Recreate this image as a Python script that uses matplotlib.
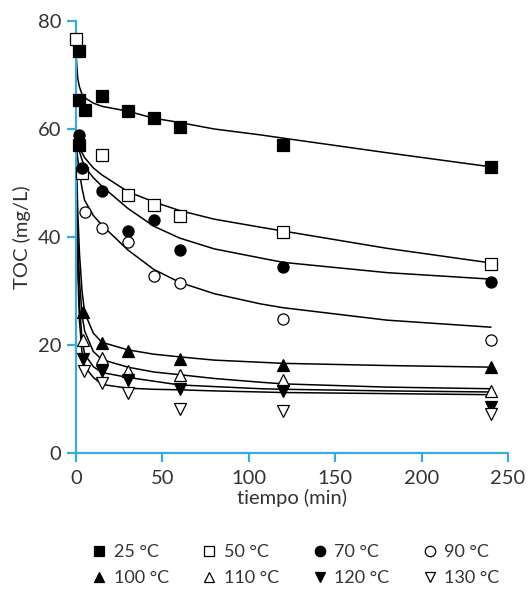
import matplotlib
matplotlib.use("Agg")
import matplotlib.pyplot as plt
from matplotlib.lines import Line2D

plt.rcParams['font.family'] = ['Lato', 'DejaVu Sans']

# ---- measured data (tiempo in min, TOC in mg/L) ----
t_25 = [1.5, 1.5, 1.5, 5, 15, 30, 45, 60, 120, 240]
toc_25 = [74.4, 65.4, 57.0, 63.6, 66.1, 63.4, 62.0, 60.4, 57.0, 52.9]
t_50 = [0, 3.5, 15, 30, 45, 60, 120, 240]
toc_50 = [76.7, 51.9, 55.1, 47.8, 45.9, 43.8, 40.9, 35.0]
t_70 = [1.7, 3.7, 15, 30, 45, 60, 120, 240]
toc_70 = [58.9, 52.7, 48.6, 41.1, 43.1, 37.6, 34.5, 31.6]
t_90 = [5, 15, 30, 45, 60, 120, 240]
toc_90 = [44.7, 41.7, 39.1, 32.7, 31.4, 24.9, 20.9]
t_100 = [4.2, 15, 30, 60, 120, 240]
toc_100 = [26.2, 20.4, 18.8, 17.5, 16.3, 15.9]
t_110 = [4.2, 15, 30, 60, 120, 240]
toc_110 = [20.9, 17.6, 15.2, 14.4, 13.5, 11.5]
t_120 = [4.2, 15, 30, 60, 120, 240]
toc_120 = [17.4, 15.1, 13.5, 11.8, 11.4, 8.6]
t_130 = [4.6, 15, 30, 60, 120, 240]
toc_130 = [15.2, 13.0, 11.2, 8.2, 7.7, 7.3]

# ---- fitted curves ----
t_fit = [0, 1, 2, 3.5, 5, 10, 15, 30, 45, 60, 80, 107, 120, 180, 240]
fit_25 = [74.0, 69.4, 67.8, 66.4, 65.8, 64.8, 64.2, 63.3, 62.0, 61.2, 60.0, 58.9, 58.3, 55.6, 53.0]
fit_50 = [58.5, 57.5, 56.7, 55.6, 54.7, 52.8, 51.5, 48.4, 46.5, 44.9, 43.3, 41.8, 41.1, 37.9, 35.2]
fit_70 = [58.5, 57.0, 55.8, 54.3, 53.0, 51.0, 49.4, 45.3, 42.0, 39.8, 37.8, 36.1, 35.3, 33.4, 32.2]
fit_90 = [57.5, 54.5, 52.0, 49.0, 46.8, 44.0, 42.2, 37.6, 34.0, 31.6, 29.5, 27.6, 26.9, 24.6, 23.3]
fit_100 = [57.5, 45.0, 37.0, 30.0, 26.0, 22.2, 20.5, 19.1, 18.3, 17.8, 17.2, 16.8, 16.6, 16.2, 15.9]
fit_110 = [53.0, 40.0, 32.0, 25.5, 22.6, 18.8, 17.3, 15.9, 15.0, 14.5, 13.8, 13.1, 12.8, 12.2, 11.9]
fit_120 = [50.0, 36.0, 27.5, 21.0, 18.3, 16.0, 14.9, 14.0, 13.3, 12.6, 12.3, 11.9, 11.8, 11.5, 11.3]
fit_130 = [48.0, 34.0, 24.5, 18.5, 16.0, 14.0, 12.7, 12.0, 11.8, 11.7, 11.5, 11.3, 11.2, 11.0, 10.8]

labels = ['25 °C', '50 °C', '70 °C', '90 °C', '100 °C', '110 °C', '120 °C', '130 °C']
x_ticks = [0, 50, 100, 150, 200, 250]
y_ticks = [0, 20, 40, 60, 80]

series = [
    (t_25, toc_25, fit_25, 's', 'black'),
    (t_50, toc_50, fit_50, 's', 'white'),
    (t_70, toc_70, fit_70, 'o', 'black'),
    (t_90, toc_90, fit_90, 'o', 'white'),
    (t_100, toc_100, fit_100, '^', 'black'),
    (t_110, toc_110, fit_110, '^', 'white'),
    (t_120, toc_120, fit_120, 'v', 'black'),
    (t_130, toc_130, fit_130, 'v', 'white'),
]

axis_col = '#3aa9de'
text_col = '#333333'

fig = plt.figure(figsize=(5.28, 5.91), dpi=100)
ax = fig.add_axes([76/528, 138/591, 432/528, 432/591])

for t, y, f, m, fc in series:
    ax.plot(t_fit, f, color='black', lw=1.1, zorder=2)

handles = []
for (t, y, f, m, fc), lab in zip(series, labels):
    ms = 8 if m in 'so' else 8.5
    ax.plot(t, y, linestyle='none', marker=m, ms=ms, mfc=fc, mec='black',
            mew=0.9, zorder=3, clip_on=False)
    handles.append(Line2D([], [], linestyle='none', marker=m, ms=7.5,
                          mfc=fc, mec='black', mew=0.9, label=lab))

ax.set_xlim(0, 250)
ax.set_ylim(0, 80)
ax.set_xticks(x_ticks)
ax.set_yticks(y_ticks)
for s in ['top', 'right']:
    ax.spines[s].set_visible(False)
for s in ['left', 'bottom']:
    ax.spines[s].set_color(axis_col)
    ax.spines[s].set_linewidth(1.6)
ax.tick_params(axis='both', direction='out', length=6.5, width=1.6,
               color=axis_col, labelcolor=text_col, labelsize=14.5)
ax.tick_params(axis='x', pad=6)
ax.tick_params(axis='y', pad=4)
ax.set_xlabel('tiempo (min)', fontsize=14.5, color=text_col, labelpad=1)
ax.set_ylabel('TOC (mg/L)', fontsize=14.5, color=text_col, labelpad=5)

order = [0, 4, 1, 5, 2, 6, 3, 7]
fig.legend([handles[i] for i in order], [labels[i] for i in order],
           loc='center', bbox_to_anchor=(0.56, 0.044), ncol=4, frameon=False,
           fontsize=13, handlelength=0.8, handletextpad=0.4,
           columnspacing=1.85, labelspacing=0.55, labelcolor=text_col)

fig.savefig('out.png', dpi=100)
